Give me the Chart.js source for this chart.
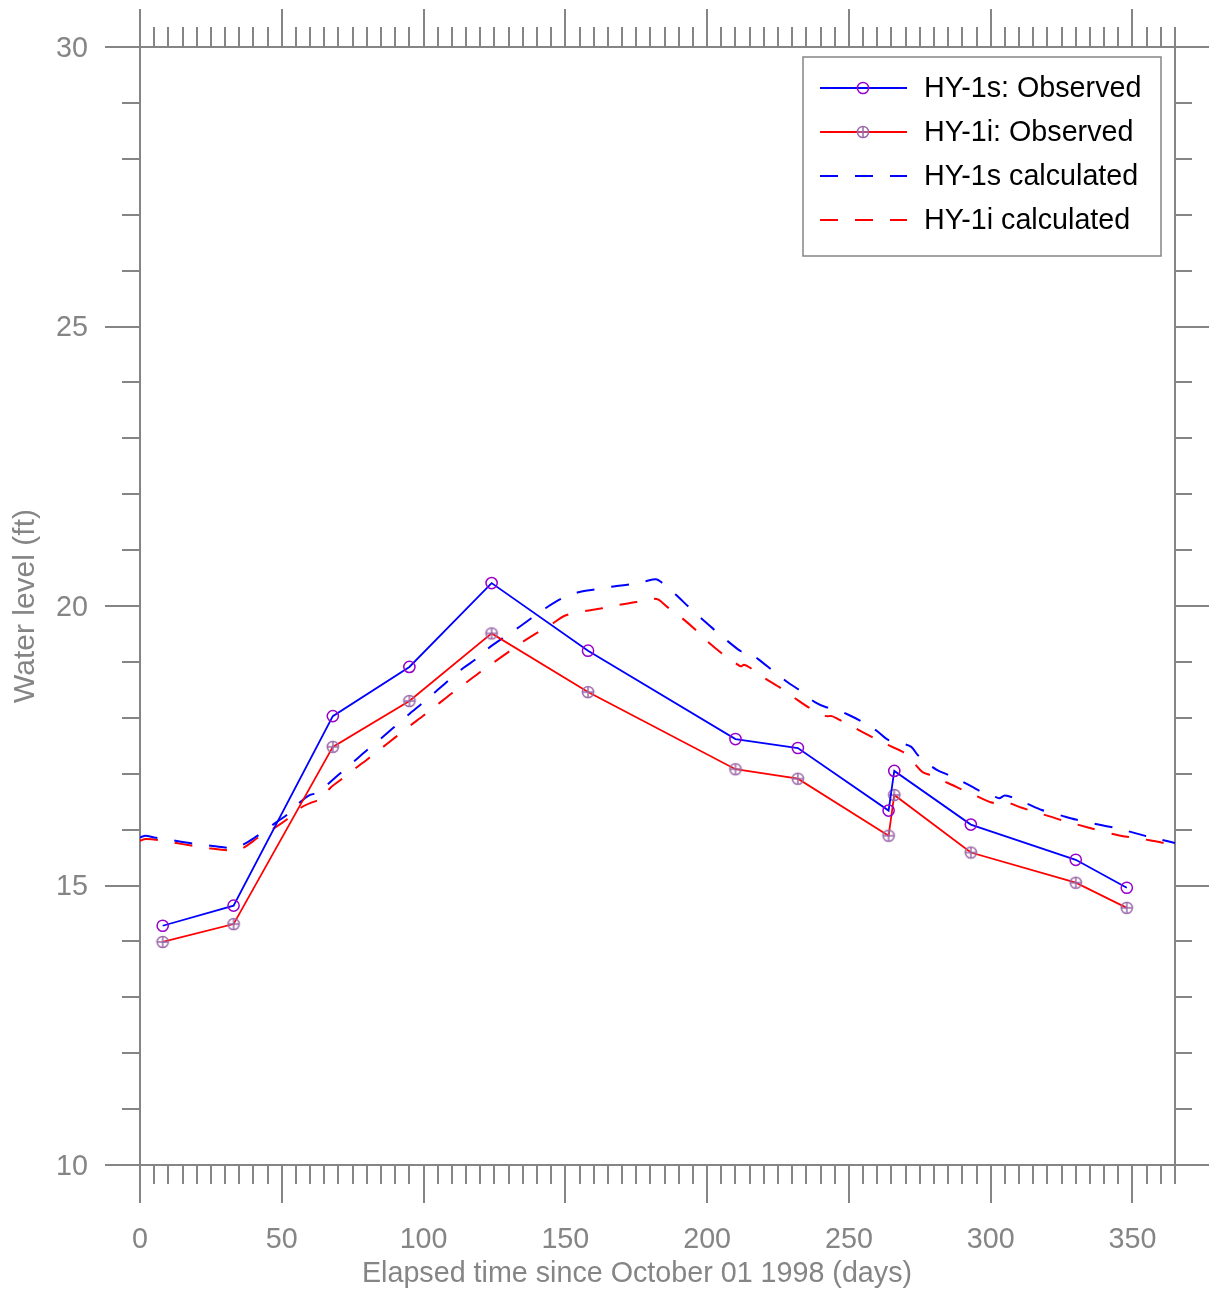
<!DOCTYPE html>
<html>
<head>
<meta charset="utf-8">
<title>HY-1 water levels</title>
<script src="https://cdn.jsdelivr.net/npm/chart.js@4/dist/chart.umd.min.js"></script>
<style>
  html, body { margin: 0; padding: 0; background: #ffffff; }
  canvas { display: block; }
</style>
</head>
<body>
<canvas id="c" width="1209" height="1293"></canvas>
<script>
// Observed water levels (ft) at the sampling dates
const obsDays = [8, 33, 68, 95, 124, 158, 210, 232, 264, 266, 293, 330, 348];
const hy1sObserved = [14.28, 14.64, 18.03, 18.91, 20.41, 19.20, 17.62, 17.46, 16.34, 17.05, 16.09, 15.46, 14.96];
const hy1iObserved = [13.99, 14.31, 17.48, 18.30, 19.51, 18.46, 17.08, 16.91, 15.89, 16.62, 15.59, 15.05, 14.60];

// Model output for HY-1s
const calcDaysS = [0, 2, 5, 10, 15, 20, 25, 30, 33, 36, 40, 44, 48, 52, 56, 60, 63, 66, 70, 75, 80, 85, 90, 95, 100, 105, 110, 114, 119, 123, 128, 133, 138, 143, 149, 155, 161, 167, 173, 178, 182, 184, 189, 194, 199, 204, 208, 211, 212, 214, 218, 223, 228, 233, 238, 242, 244, 250, 255, 260, 264, 268, 272, 274, 276, 281, 285, 290, 297, 301, 303, 305, 308, 313, 318, 325, 330, 337, 345, 350, 355, 360, 365];
const calcHY1s = [15.86, 15.89, 15.86, 15.82, 15.78, 15.74, 15.71, 15.68, 15.67, 15.72, 15.84, 15.98, 16.13, 16.27, 16.47, 16.62, 16.66, 16.80, 16.98, 17.20, 17.42, 17.63, 17.85, 18.07, 18.28, 18.50, 18.72, 18.89, 19.07, 19.25, 19.43, 19.60, 19.78, 19.96, 20.14, 20.25, 20.30, 20.35, 20.39, 20.44, 20.48, 20.42, 20.20, 19.96, 19.73, 19.51, 19.34, 19.22, 19.19, 19.20, 19.05, 18.85, 18.65, 18.48, 18.28, 18.19, 18.18, 18.05, 17.92, 17.76, 17.60, 17.55, 17.48, 17.35, 17.25, 17.07, 16.98, 16.86, 16.67, 16.60, 16.56, 16.61, 16.57, 16.46, 16.35, 16.25, 16.18, 16.10, 16.02, 15.95, 15.88, 15.82, 15.76];

// Model output for HY-1i
const calcDaysI = [0, 2, 7, 15, 20, 25, 31, 34, 37, 42, 48, 52, 57, 62, 64, 67, 70, 75, 80, 85, 90, 95, 100, 105, 110, 115, 120, 125, 130, 135, 140, 145, 150, 157, 163, 169, 175, 181, 183, 186, 191, 196, 200, 205, 210, 212, 213, 215, 220, 226, 231, 236, 240, 242, 244, 246, 250, 255, 260, 264, 269, 272, 274, 276, 280, 288, 295, 300, 303, 306, 311, 318, 325, 335, 345, 356, 365];
const calcHY1i = [15.80, 15.83, 15.81, 15.74, 15.70, 15.66, 15.63, 15.62, 15.69, 15.87, 16.05, 16.19, 16.40, 16.51, 16.52, 16.74, 16.86, 17.06, 17.25, 17.45, 17.65, 17.85, 18.04, 18.24, 18.44, 18.63, 18.82, 19.00, 19.18, 19.36, 19.52, 19.67, 19.83, 19.91, 19.96, 20.02, 20.07, 20.13, 20.11, 19.98, 19.79, 19.57, 19.37, 19.16, 18.98, 18.92, 18.95, 18.90, 18.72, 18.53, 18.35, 18.18, 18.08, 18.03, 18.03, 17.98, 17.88, 17.74, 17.61, 17.51, 17.39, 17.28, 17.13, 17.03, 16.95, 16.76, 16.60, 16.49, 16.47, 16.48, 16.39, 16.28, 16.17, 16.03, 15.90, 15.81, 15.72];

// Axis ticks and titles
const xMajorTicks = [0, 50, 100, 150, 200, 250, 300, 350];
const yMajorTicks = [10, 15, 20, 25, 30];
const xTitle = 'Elapsed time since October 01 1998 (days)';
const yTitle = 'Water level (ft)';

const FONT_FAMILY = '"Liberation Sans", Arial, Helvetica, sans-serif';
const FONT_SIZE = 28.7;
const AXIS_GRAY = '#858585';
const AXIS_WIDTH = 2;

function pairs(xs, ys) { return xs.map((x, i) => ({ x: x, y: ys[i] })); }

// Open circle with a plus sign inside, used as the HY-1i marker
function circlePlusMarker(color) {
  const c = document.createElement('canvas');
  c.width = 16; c.height = 16;
  const g = c.getContext('2d');
  g.strokeStyle = color;
  g.lineWidth = 1.5;
  g.beginPath(); g.arc(8, 8, 5.6, 0, Math.PI * 2); g.stroke();
  g.beginPath();
  g.moveTo(2.4, 8); g.lineTo(13.6, 8);
  g.moveTo(8, 2.4); g.lineTo(8, 13.6);
  g.stroke();
  return c;
}
const hy1iMarker = circlePlusMarker('#9a68a8');

// Short unlabelled ticks between the major ones, on all four sides
const minorTicks = {
  id: 'minorTicks',
  afterDraw(chart) {
    const { ctx, chartArea: a, scales } = chart;
    ctx.save();
    ctx.strokeStyle = AXIS_GRAY;
    ctx.lineWidth = AXIS_WIDTH;
    ctx.beginPath();
    for (let d = 5; d <= 365; d += 5) {
      if (d % 50 === 0) continue;
      const px = Math.round(scales.x.getPixelForValue(d));
      ctx.moveTo(px, a.bottom); ctx.lineTo(px, a.bottom + 19);
      ctx.moveTo(px, a.top); ctx.lineTo(px, a.top - 20);
    }
    for (let v = 11; v < 30; v += 1) {
      if (v % 5 === 0) continue;
      const py = Math.round(scales.y.getPixelForValue(v));
      ctx.moveTo(a.left, py); ctx.lineTo(a.left - 18, py);
      ctx.moveTo(a.right, py); ctx.lineTo(a.right + 17, py);
    }
    ctx.stroke();
    ctx.restore();
  }
};

// Horizontal axis title, set a little left of the plot centre
const xAxisTitle = {
  id: 'xAxisTitle',
  afterDraw(chart) {
    const { ctx } = chart;
    ctx.save();
    ctx.fillStyle = AXIS_GRAY;
    ctx.font = FONT_SIZE + 'px ' + FONT_FAMILY;
    ctx.textAlign = 'center';
    ctx.textBaseline = 'middle';
    ctx.fillText(xTitle, 637, 1274);
    ctx.restore();
  }
};

// Boxed legend with line + marker samples
const boxLegend = {
  id: 'boxLegend',
  afterDraw(chart) {
    const { ctx } = chart;
    const box = { x: 803, y: 57, w: 358, h: 199 };
    ctx.save();
    ctx.fillStyle = '#ffffff';
    ctx.fillRect(box.x, box.y, box.w, box.h);
    ctx.strokeStyle = AXIS_GRAY;
    ctx.lineWidth = 1.5;
    ctx.strokeRect(box.x, box.y, box.w, box.h);
    chart.data.datasets.forEach((ds, i) => {
      const rowY = 88 + i * 44;
      ctx.save();
      ctx.strokeStyle = ds.borderColor;
      ctx.lineWidth = ds.borderWidth;
      ctx.setLineDash(ds.borderDash || []);
      ctx.beginPath();
      ctx.moveTo(820, rowY); ctx.lineTo(907, rowY);
      ctx.stroke();
      ctx.restore();
      if (ds.pointRadius > 0) {
        if (ds.pointStyle instanceof HTMLCanvasElement) {
          ctx.drawImage(ds.pointStyle, 863 - ds.pointStyle.width / 2, rowY - ds.pointStyle.height / 2);
        } else {
          ctx.strokeStyle = ds.pointBorderColor;
          ctx.lineWidth = ds.pointBorderWidth;
          ctx.beginPath(); ctx.arc(863, rowY, ds.pointRadius, 0, Math.PI * 2); ctx.stroke();
        }
      }
      ctx.fillStyle = '#000000';
      ctx.font = FONT_SIZE + 'px ' + FONT_FAMILY;
      ctx.textAlign = 'left';
      ctx.textBaseline = 'middle';
      ctx.fillText(ds.label, 924, rowY + 1);
    });
    ctx.restore();
  }
};

const tickFont = { family: FONT_FAMILY, size: FONT_SIZE };

function axisGrid(len) {
  return { display: true, drawOnChartArea: false, drawTicks: true, tickLength: len,
           color: AXIS_GRAY, lineWidth: AXIS_WIDTH };
}
const axisBorder = { display: true, color: AXIS_GRAY, width: AXIS_WIDTH };

new Chart(document.getElementById('c'), {
  type: 'line',
  data: {
    datasets: [
      {
        label: 'HY-1s: Observed',
        data: pairs(obsDays, hy1sObserved),
        borderColor: '#0000ff', borderWidth: 1.8,
        pointStyle: 'circle', pointRadius: 5.6, pointBorderWidth: 1.5,
        pointBorderColor: '#9900cc', pointBackgroundColor: 'rgba(0,0,0,0)',
        tension: 0
      },
      {
        label: 'HY-1i: Observed',
        data: pairs(obsDays, hy1iObserved),
        borderColor: '#ff0000', borderWidth: 1.8,
        pointStyle: hy1iMarker, pointRadius: 5.6, pointBorderWidth: 1.5,
        pointBorderColor: '#9a68a8', pointBackgroundColor: 'rgba(0,0,0,0)',
        tension: 0
      },
      {
        label: 'HY-1s calculated',
        data: pairs(calcDaysS, calcHY1s),
        borderColor: '#0000ff', borderWidth: 2, borderDash: [18, 17],
        pointRadius: 0, tension: 0.3
      },
      {
        label: 'HY-1i calculated',
        data: pairs(calcDaysI, calcHY1i),
        borderColor: '#ff0000', borderWidth: 2, borderDash: [18, 17],
        pointRadius: 0, tension: 0.3
      }
    ]
  },
  options: {
    responsive: false,
    devicePixelRatio: 1,
    animation: false,
    layout: { padding: 0 },
    plugins: { legend: { display: false }, tooltip: { enabled: false } },
    scales: {
      x: {
        type: 'linear', position: 'bottom', min: 0, max: 365,
        afterBuildTicks: s => { s.ticks = xMajorTicks.map(v => ({ value: v })); },
        afterFit: s => { s.height = 128; },
        ticks: { color: AXIS_GRAY, font: tickFont, padding: 20, maxRotation: 0, includeBounds: false },
        grid: axisGrid(38), border: axisBorder
      },
      x2: {
        type: 'linear', position: 'top', min: 0, max: 365,
        afterBuildTicks: s => { s.ticks = xMajorTicks.map(v => ({ value: v })); },
        afterFit: s => { s.height = 47; },
        ticks: { display: false },
        grid: axisGrid(38), border: axisBorder
      },
      y: {
        type: 'linear', position: 'left', min: 10, max: 30,
        afterBuildTicks: s => { s.ticks = yMajorTicks.map(v => ({ value: v })); },
        afterFit: s => { s.width = 140; },
        ticks: { color: AXIS_GRAY, font: tickFont, padding: 17, labelOffset: 2 },
        grid: axisGrid(35), border: axisBorder,
        title: { display: true, text: yTitle, color: AXIS_GRAY,
                 font: { family: FONT_FAMILY, size: 30 },
                 padding: { top: 8, bottom: 0 } }
      },
      y2: {
        type: 'linear', position: 'right', min: 10, max: 30,
        afterBuildTicks: s => { s.ticks = yMajorTicks.map(v => ({ value: v })); },
        afterFit: s => { s.width = 34; },
        ticks: { display: false },
        grid: axisGrid(35), border: axisBorder
      }
    }
  },
  plugins: [minorTicks, xAxisTitle, boxLegend]
});
</script>
</body>
</html>
